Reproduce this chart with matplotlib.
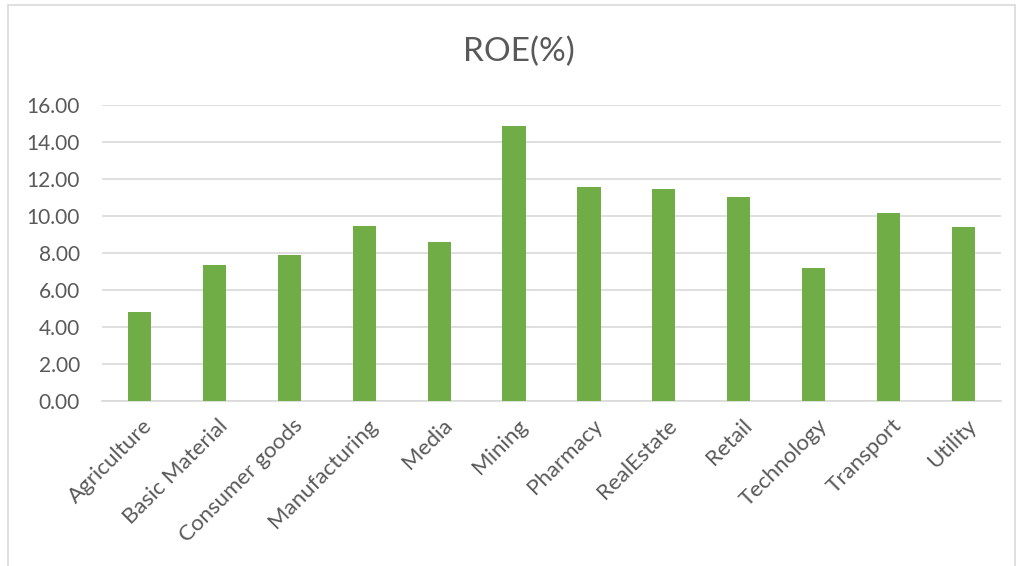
import matplotlib.pyplot as plt
from matplotlib.patches import Rectangle
from matplotlib.transforms import ScaledTranslation

# ROE by sector
sectors = ["Agriculture", "Basic Material", "Consumer goods", "Manufacturing",
           "Media", "Mining", "Pharmacy", "RealEstate", "Retail",
           "Technology", "Transport", "Utility"]
roe = [4.79, 7.33, 7.88, 9.46, 8.61, 14.84, 11.56, 11.48, 11.00, 7.20, 10.15, 9.39]
yticks = [0, 2, 4, 6, 8, 10, 12, 14, 16]

plt.rcParams['font.family'] = ['Lato', 'DejaVu Sans']
grey = "#595959"
grid = "#D9D9D9"

fig = plt.figure(figsize=(10.19, 5.66), dpi=100)
ax = fig.add_axes([0.1001, 0.2915, 0.8822, 0.523])

x = range(len(sectors))
ax.bar(x, roe, width=0.31, color="#70AD47", zorder=3)

ax.set_xlim(-0.5, len(sectors) - 0.5)
ax.set_ylim(0, 16)
ax.set_yticks(yticks)
ax.set_yticklabels([f"{v:.2f}" for v in yticks], fontsize=15, color=grey)
ax.set_xticks(list(x))
ax.set_xticklabels(sectors, rotation=45, ha="right", rotation_mode="anchor",
                   fontsize=16, color=grey)
ax.tick_params(axis="both", length=0)
ax.tick_params(axis="y", pad=16)
ax.tick_params(axis="x", pad=6)

# nudge the slanted labels so they end just right of each bar
shift = ScaledTranslation(0.03, -0.06, fig.dpi_scale_trans)
for lbl in ax.get_xticklabels():
    lbl.set_transform(lbl.get_transform() + shift)

ax.grid(axis="y", color=grid, linewidth=1.2, zorder=0)
for side in ["top", "right", "left"]:
    ax.spines[side].set_visible(False)
ax.spines["bottom"].set_color(grid)
ax.spines["bottom"].set_linewidth(1.2)

fig.text(0.5095, 0.908, "ROE(%)", ha="center", va="center", fontsize=24, color=grey)

# chart frame
fig.patches.append(Rectangle((8 / 1019, -0.05), 1007 / 1019, 1.041,
                             transform=fig.transFigure, fill=False,
                             edgecolor=grid, linewidth=1.2))

fig.savefig("out.png", dpi=100)
